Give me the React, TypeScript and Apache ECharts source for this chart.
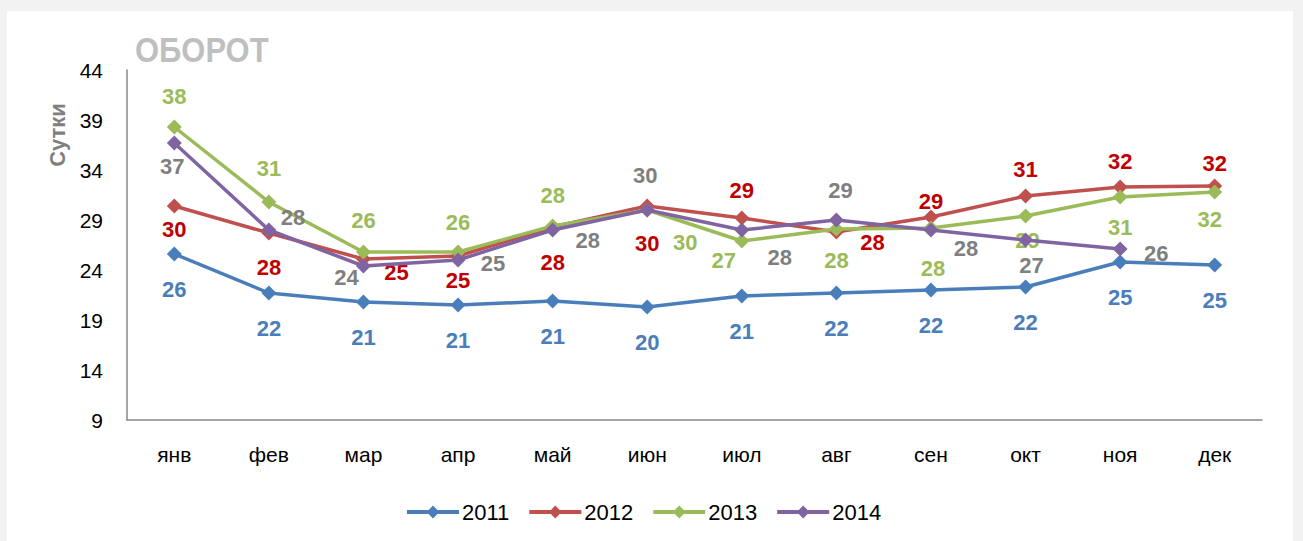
import React, { useEffect, useRef } from "react";
import * as echarts from "echarts";

const months = ["янв", "фев", "мар", "апр", "май", "июн", "июл", "авг", "сен", "окт", "ноя", "дек"];
const years = ["2011", "2012", "2013", "2014"];

const v2011 = [25.6, 21.7, 20.8, 20.5, 20.9, 20.3, 21.4, 21.7, 22.0, 22.3, 24.8, 24.5];
const v2012 = [30.4, 27.7, 25.1, 25.4, 28.3, 30.4, 29.2, 27.8, 29.3, 31.4, 32.3, 32.4];
const v2013 = [38.3, 30.8, 25.8, 25.8, 28.4, 30.0, 26.9, 28.1, 28.2, 29.4, 31.3, 31.8];
const v2014 = [36.7, 28.0, 24.4, 25.0, 28.0, 30.0, 28.0, 29.0, 28.0, 27.0, 26.1, null];

const yMin = 9;
const yMax = 44;
const yStep = 5;

// label offsets (styling) relative to marker centre
const off2011 = Array(12).fill([0, 35]);
const off2012 = [[0, 23], [0, 34], [33, 13], [0, 24], [0, 35], [0, 37], [0, -28], [36, 10], [0, -16], [0, -27], [0, -26], [0, -23]];
const off2013 = [[0, -31], [0, -34], [0, -32], [0, -30], [0, -31], [38, 32], [-18, 19], [0, 31], [2, 40], [2, 24], [0, 30], [-5, 27]];
const off2014 = [[-2, 23], [24, -13], [-17, 11], [35, 3], [35, 10], [-2, -35], [38, 27], [4, -30], [35, 18], [6, 25], [36, 4], [0, 0]];

const lineColors = ["#4a7ebb", "#c0504d", "#9bbb59", "#8064a2"];
const labelColors = ["#4a7ebb", "#c00000", "#9bbb59", "#7f7f7f"];

const FONT = "'Liberation Sans', Arial, sans-serif";

export default function App() {
  const ref = useRef<HTMLDivElement>(null);
  useEffect(() => {
    if (!ref.current) return;
    const chart = echarts.init(ref.current, undefined, { renderer: "svg" });
    const all = [v2011, v2012, v2013, v2014];
    const offs = [off2011, off2012, off2013, off2014];
    const series = all.map((vals, s) => ({
      name: years[s],
      type: "line",
      symbol: "diamond",
      symbolSize: 15,
      z: 2 + s,
      lineStyle: { color: lineColors[s], width: 3.5 },
      itemStyle: { color: lineColors[s] },
      emphasis: { disabled: true },
      label: {
        show: true,
        position: "inside",
        color: labelColors[s],
        fontFamily: FONT,
        fontWeight: "bold",
        fontSize: 22,
        formatter: (p: any) => String(Math.round(p.value)),
      },
      data: vals.map((v, i) => ({
        value: v,
        label: { offset: offs[s][i] },
      })),
    }));
    chart.setOption({
      animation: false,
      backgroundColor: "#f2f2f2",
      textStyle: { fontFamily: FONT },
      graphic: [
        {
          type: "rect",
          z: -10,
          shape: { x: 7, y: 11, width: 1286, height: 540 },
          style: { fill: "#ffffff" },
        },
        {
          type: "text",
          x: 135,
          y: 50,
          scaleX: 0.86,
          style: {
            text: "ОБОРОТ",
            fill: "#bfbfbf",
            font: `bold 36px ${FONT}`,
            textVerticalAlign: "middle",
          },
        },
        {
          type: "text",
          x: 57,
          y: 135,
          rotation: Math.PI / 2,
          style: {
            text: "Сутки",
            fill: "#7f7f7f",
            font: `bold 22px ${FONT}`,
            textAlign: "center",
            textVerticalAlign: "middle",
          },
        },
      ],
      grid: { left: 127, right: 41, top: 70, bottom: 121, containLabel: false },
      legend: {
        data: years,
        left: 400,
        top: 496,
        itemWidth: 52,
        itemHeight: 16,
        itemGap: 18,
        lineStyle: { width: 4 },
        textStyle: { fontSize: 22, color: "#000", fontFamily: FONT, padding: [0, 0, 0, -2] },
      },
      xAxis: {
        type: "category",
        data: months,
        boundaryGap: true,
        axisLine: { show: true, lineStyle: { color: "#898989", width: 1.5 } },
        axisTick: { show: false },
        axisLabel: { fontSize: 21, color: "#000", margin: 24, fontFamily: FONT },
      },
      yAxis: {
        type: "value",
        min: yMin,
        max: yMax,
        interval: yStep,
        axisLine: { show: true, lineStyle: { color: "#898989", width: 1.5 } },
        axisTick: { show: false },
        splitLine: { show: false },
        axisLabel: { fontSize: 21, color: "#000", margin: 24, fontFamily: FONT },
      },
      series,
    });
    return () => chart.dispose();
  }, []);
  return (
    <div style={{ position: "fixed", left: 0, top: 0, width: 1303, height: 541, background: "#f2f2f2" }}>
      <div ref={ref} style={{ width: 1303, height: 541 }} />
    </div>
  );
}
